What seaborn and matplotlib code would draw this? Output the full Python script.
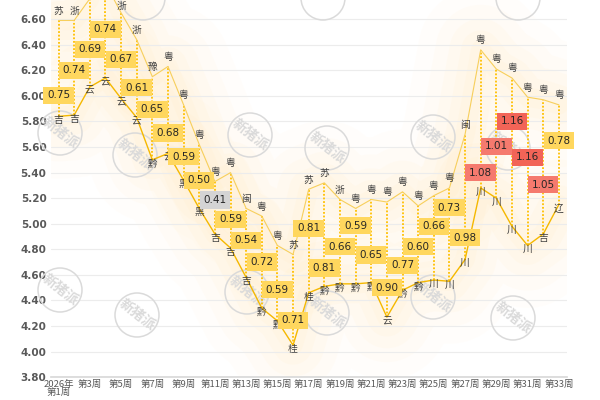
import numpy as np
import pandas as pd
import matplotlib
matplotlib.use("Agg")
import matplotlib.pyplot as plt
import seaborn as sns
from matplotlib.patches import Circle

# weekly high / low prices and the province for each
weeks = list(range(1, 34))
top_price = [6.59, 6.59, 6.76, 6.88, 6.65, 6.44, 6.15, 6.23, 5.93, 5.62, 5.33,
             5.40, 5.12, 5.06, 4.83, 4.76, 5.27, 5.32, 5.19, 5.12, 5.19, 5.17,
             5.25, 5.14, 5.22, 5.28, 5.70, 6.36, 6.21, 6.14, 5.99, 5.97, 5.93]
low_price = [5.84, 5.85, 6.07, 6.14, 5.98, 5.83, 5.50, 5.55, 5.34, 5.12, 4.92,
             4.81, 4.58, 4.34, 4.24, 4.05, 4.46, 4.51, 4.53, 4.53, 4.54, 4.27,
             4.48, 4.54, 4.56, 4.55, 4.72, 5.28, 5.20, 4.98, 4.83, 4.92, 5.15]
spread = [0.75, 0.74, 0.69, 0.74, 0.67, 0.61, 0.65, 0.68, 0.59, 0.50, 0.41,
          0.59, 0.54, 0.72, 0.59, 0.71, 0.81, 0.81, 0.66, 0.59, 0.65, 0.90,
          0.77, 0.60, 0.66, 0.73, 0.98, 1.08, 1.01, 1.16, 1.16, 1.05, 0.78]
top_prov = ["苏", "浙", "浙", "浙", "浙", "浙", "豫", "粤", "粤", "粤", "粤",
            "粤", "闽", "粤", "粤", "苏", "苏", "苏", "浙", "粤", "粤", "粤",
            "粤", "粤", "粤", "粤", "闽", "粤", "粤", "粤", "粤", "粤", "粤"]
low_prov = ["吉", "吉", "云", "云", "云", "云", "黔", "云", "黑", "黑", "吉",
            "吉", "吉", "黔", "黔", "桂", "桂", "黔", "黔", "黔", "黔", "云",
            "黔", "黔", "川", "川", "川", "川", "川", "川", "川", "吉", "辽"]
week_labels = ["2026年\n第1周" if w == 1 else f"第{w}周" for w in weeks]

# nudges for the spread boxes so they don't collide
label_shift = [-0.21, -0.02, -0.05, 0.01, -0.03, -0.07, 0.07, -0.18, -0.11, -0.03, 0.06,
               -0.07, 0.02, 0.0, -0.05, -0.16, 0.10, -0.26, -0.04, 0.16, -0.11, -0.22,
               -0.19, -0.02, 0.09, 0.21, -0.32, -0.42, -0.10, 0.24, 0.11, -0.14, 0.11]

df = pd.DataFrame({"pos": np.arange(len(weeks)), "top": top_price, "low": low_price})

sns.set_theme(style="white")
plt.rcParams["font.family"] = ["Noto Sans CJK SC", "DejaVu Sans"]

fig = plt.figure(figsize=(6, 4), dpi=100)
ax = fig.add_axes([0.0845, 0.057, 0.86, 0.943])
YMAX = 6.75

# soft glow around the lines
for w, a in [(90, 0.03), (65, 0.04), (45, 0.045), (28, 0.05), (14, 0.05)]:
    for col in ["top", "low"]:
        ax.plot(df["pos"], df[col], color="#ffdf80", lw=w, alpha=a,
                solid_capstyle="round", solid_joinstyle="round", zorder=0)

# watermarks, behind the data
def watermark(px, py, with_text=True):
    x, y = px / 600, 1 - py / 400
    ax.add_patch(Circle((x * 6, y * 4), 0.22, transform=fig.dpi_scale_trans,
                        fill=False, ec="#dadada", lw=1.1, zorder=1, clip_on=False))
    if with_text:
        ax.text(x, y, "新猪派", transform=fig.transFigure, ha="center", va="center",
                rotation=-38, fontsize=10, fontweight="bold", color="#dadada", zorder=1)

for px, py in [(60, 133), (135, 155), (250, 135), (327, 148), (433, 137), (508, 148),
               (60, 290), (137, 315), (247, 292), (327, 313), (433, 297), (513, 318)]:
    watermark(px, py)
for px in [143, 323, 518]:
    watermark(px, -2, with_text=False)

ax.vlines(df["pos"], df["low"], df["top"], colors="#ffc000",
          linestyles=(0, (1, 1)), lw=1.3, zorder=2)
sns.lineplot(data=df, x="pos", y="top", color="#f7cf5c", lw=0.8, ax=ax, zorder=3)
sns.lineplot(data=df, x="pos", y="low", color="#f5b800", lw=1.0, ax=ax, zorder=3)

for i in range(len(weeks)):
    ty = top_price[i] + 0.075
    if ty < YMAX:
        ax.text(i, min(ty, YMAX - 0.045), top_prov[i], ha="center", va="center",
                fontsize=7, color="#404040", zorder=4)
    ax.text(i, low_price[i] - 0.03, low_prov[i], ha="center", va="center",
            fontsize=7, color="#404040", zorder=4)
    v = spread[i]
    if v == min(spread):
        fc = "#d4d4d4"
    elif v > 1.0:
        fc = "#f26457" if v > 1.1 else "#f57a6e"
    else:
        fc = "#ffd75e"
    mid = (top_price[i] + low_price[i]) / 2 + label_shift[i]
    ax.text(i, mid, f"{v:.2f}", ha="center", va="center", fontsize=7.5,
            family="DejaVu Sans", color="#262626", zorder=5,
            bbox=dict(boxstyle="square,pad=0.35", fc=fc, ec="none"))

ax.set_xlim(-0.5, 32.5)
ax.set_ylim(3.80, YMAX)
ax.set_yticks(np.arange(3.8, 6.61, 0.2))
ax.set_yticklabels([f"{t:.2f}" for t in np.arange(3.8, 6.61, 0.2)],
                   fontsize=7.5, fontweight="bold", color="#595959", family="DejaVu Sans")
ax.set_xticks(df["pos"][::2])
ax.set_xticklabels(week_labels[::2], fontsize=6.8, color="#595959", linespacing=0.9)
ax.set_xticks(np.arange(-0.5, 33, 2), minor=True)
ax.tick_params(axis="x", which="major", length=0, pad=2)
ax.tick_params(axis="x", which="minor", length=4, color="#d9d9d9", width=0.8)
ax.tick_params(axis="y", length=0, pad=3)
ax.grid(axis="y", color="#ececec", lw=0.8)
ax.set_axisbelow(True)
ax.set_xlabel("")
ax.set_ylabel("")
for s in ["top", "right", "left"]:
    ax.spines[s].set_visible(False)
ax.spines["bottom"].set_color("#d9d9d9")

fig.savefig("out.png", dpi=100)
